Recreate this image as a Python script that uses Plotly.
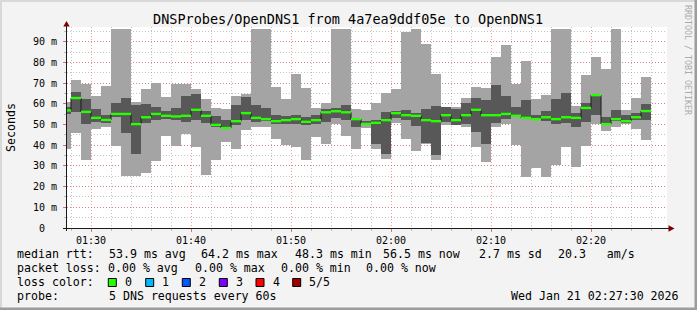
import datetime as dt
import plotly.graph_objects as go

# ---------------- data (one bar per minute, first bar starts 01:27) ----------------
minute_labels = ["01:27", "01:28", "01:29", "01:30", "01:31", "01:32", "01:33", "01:34", "01:35", "01:36",
                 "01:37", "01:38", "01:39", "01:40", "01:41", "01:42", "01:43", "01:44", "01:45", "01:46",
                 "01:47", "01:48", "01:49", "01:50", "01:51", "01:52", "01:53", "01:54", "01:55", "01:56",
                 "01:57", "01:58", "01:59", "02:00", "02:01", "02:02", "02:03", "02:04", "02:05", "02:06",
                 "02:07", "02:08", "02:09", "02:10", "02:11", "02:12", "02:13", "02:14", "02:15", "02:16",
                 "02:17", "02:18", "02:19", "02:20", "02:21", "02:22", "02:23", "02:24", "02:25"]

# ms; 96.2 = bar reaches the top of the graph (clipped)
max_ms = [61.0, 71.3, 69.4, 63.8, 68.5, 96.2, 96.2, 60.9, 67.0, 69.9, 63.2, 69.4, 69.4, 67.0, 62.2,
          57.9, 57.4, 63.8, 64.6, 96.2, 96.2, 68.0, 62.2, 74.2, 67.5, 57.9, 60.6, 96.2, 96.2, 57.4,
          56.9, 60.3, 65.1, 67.0, 94.9, 96.2, 88.7, 74.2, 58.3, 58.3, 62.7, 68.0, 67.5, 82.4, 88.2,
          69.4, 80.5, 62.2, 64.1, 96.2, 96.2, 58.8, 73.8, 82.4, 76.6, 96.2, 56.9, 62.7, 72.8]
ping4_ms = [58.5, 65.7, 62.2, 57.4, 54.5, 60.3, 62.7, 59.3, 59.8, 58.3, 56.4, 57.9, 63.6, 64.6, 56.4,
            54.1, 52.1, 59.3, 63.2, 59.3, 57.9, 54.5, 54.0, 54.5, 53.5, 54.5, 57.4, 57.9, 59.3, 52.9,
            51.6, 52.1, 55.9, 56.4, 56.9, 55.5, 57.4, 58.8, 58.3, 57.4, 60.3, 62.7, 61.7, 68.9, 63.6,
            58.3, 61.7, 54.5, 56.4, 62.2, 65.1, 55.5, 60.3, 64.4, 53.5, 56.9, 54.5, 55.5, 59.8]
median_ms = [56.8, 62.8, 56.1, 53.2, 52.2, 55.1, 55.1, 50.2, 53.5, 55.1, 54.2, 53.9, 54.2, 57.1, 54.2,
             49.8, 48.3, 51.6, 55.5, 53.2, 52.6, 51.6, 52.1, 52.6, 51.3, 52.1, 55.9, 56.4, 55.9, 52.6,
             50.3, 50.8, 52.1, 55.5, 54.5, 54.2, 52.1, 51.6, 54.5, 52.1, 54.5, 57.1, 54.5, 54.5, 55.1,
             54.2, 53.2, 52.6, 53.5, 52.6, 53.5, 53.2, 58.0, 64.2, 50.2, 52.6, 51.6, 53.5, 56.5]
ping2_ms = [55.0, 56.1, 50.3, 51.3, 50.6, 53.5, 46.0, 35.7, 50.8, 52.1, 52.6, 52.2, 51.3, 52.2, 50.6,
            48.8, 47.8, 49.7, 52.1, 51.3, 51.6, 50.3, 50.3, 50.3, 49.7, 50.2, 51.3, 53.2, 52.2, 48.9,
            49.7, 40.7, 35.7, 53.2, 52.1, 49.2, 41.1, 35.2, 51.3, 49.7, 50.2, 46.3, 40.7, 50.8, 52.6,
            53.7, 52.8, 52.1, 51.6, 50.2, 50.6, 48.7, 51.3, 54.5, 49.7, 51.6, 50.6, 52.1, 52.1]
min_ms = [38.2, 46.1, 33.0, 47.9, 48.9, 39.8, 24.9, 25.3, 26.7, 32.5, 44.5, 39.7, 45.5, 39.2, 25.6,
          33.0, 41.7, 38.3, 47.3, 48.9, 48.9, 43.1, 40.2, 39.2, 33.0, 44.1, 40.7, 50.2, 44.5, 38.3,
          48.4, 38.3, 33.5, 50.8, 43.1, 37.4, 40.5, 33.0, 49.7, 49.6, 48.9, 39.2, 32.0, 48.9, 50.2,
          40.2, 24.4, 29.2, 24.4, 30.2, 39.3, 29.7, 39.8, 50.2, 47.0, 48.9, 50.2, 47.9, 42.7]

y_tick_vals = [0, 10, 20, 30, 40, 50, 60, 70, 80, 90]
y_tick_text = ["0\u00a0\u00a0", "10 m", "20 m", "30 m", "40 m", "50 m", "60 m", "70 m", "80 m", "90 m"]

loss_labels = ["0", "1", "2", "3", "4", "5/5"]
loss_colors = ["#26ff00", "#00b8ff", "#0059ff", "#7e00ff", "#ff0000", "#a00000"]

title_text = "DNSProbes/OpenDNS1 from 4a7ea9ddf05e to OpenDNS1"

# ---------------- geometry ----------------
W, H = 697, 310
L, R, T, B = 67, 30, 27, 82
PW, PH = W - L - R, H - T - B
Y_TOP = 97.1
day = dt.date(2026, 1, 21)


def px(x):
    return (x - L) / PW


def py(y):
    return (H - B - y) / PH


def ts(label):
    h, m = map(int, label.split(":"))
    return dt.datetime(day.year, day.month, day.day, h, m)


starts = [ts(lbl) for lbl in minute_labels]
ends = [s + dt.timedelta(minutes=1) for s in starts]
centers = [s + dt.timedelta(seconds=30) for s in starts]
step_x = starts + [ends[-1]]
step_y = median_ms + [median_ms[-1]]
BW = 60000

# green horizontal median segments
seg_x, seg_y = [], []
for s, e, m in zip(starts, ends, median_ms):
    seg_x += [s, e, None]
    seg_y += [m, m, None]

fig = go.Figure()
fig.add_trace(go.Bar(x=centers, y=[a - b for a, b in zip(max_ms, min_ms)], base=min_ms, width=BW,
                     marker=dict(color="#a4a4a4", line=dict(width=0)), hoverinfo="skip"))
fig.add_trace(go.Bar(x=centers, y=[a - b for a, b in zip(ping4_ms, ping2_ms)], base=ping2_ms, width=BW,
                     marker=dict(color="#585858", line=dict(width=0)), hoverinfo="skip"))
fig.add_trace(go.Scatter(x=step_x, y=step_y, mode="lines", line=dict(color="#1a1a1a", width=1, shape="hv"),
                         hoverinfo="skip"))
fig.add_trace(go.Scatter(x=seg_x, y=seg_y, mode="lines", line=dict(color=loss_colors[0], width=2.4),
                         connectgaps=False, hoverinfo="skip"))

MONO = "DejaVu Sans Mono"
grid_minor = "rgba(143,143,143,0.55)"
grid_major = "rgba(222,80,80,0.55)"
dash = "1px,2px"

fig.update_layout(
    width=W, height=H,
    margin=dict(l=L, r=R, t=T, b=B, pad=0),
    paper_bgcolor="#f3f3f3", plot_bgcolor="#ffffff",
    barmode="overlay", bargap=0, showlegend=False,
    font=dict(family=MONO, color="#000000"),
)
fig.update_xaxes(
    type="date",
    range=[dt.datetime(2026, 1, 21, 1, 27, 36), dt.datetime(2026, 1, 21, 2, 27, 36)],
    tickformat="%H:%M", tick0="2026-01-21 01:30:00", dtick=600000,
    showgrid=True, gridcolor=grid_major, griddash=dash, gridwidth=1,
    ticks="outside", ticklen=3, tickcolor="rgba(222,80,80,0.8)", tickwidth=1,
    tickfont=dict(family=MONO, size=10, color="#000000"),
    minor=dict(tick0="2026-01-21 01:30:00", dtick=120000, showgrid=True, gridcolor=grid_minor,
               griddash=dash, ticks="outside", ticklen=2, tickcolor=grid_minor),
    showline=False, zeroline=False, fixedrange=True,
)
fig.update_yaxes(
    range=[0, Y_TOP], tickmode="array", tickvals=y_tick_vals, ticktext=y_tick_text,
    showgrid=True, gridcolor=grid_major, griddash=dash, gridwidth=1,
    ticks="outside", ticklen=3, tickcolor="rgba(222,80,80,0.8)",
    tickfont=dict(family=MONO, size=10, color="#000000"),
    ticklabelstandoff=4,
    minor=dict(tickmode="linear", tick0=0, dtick=5, showgrid=True, gridcolor=grid_minor,
               griddash=dash, ticks="outside", ticklen=2, tickcolor=grid_minor),
    showline=False, zeroline=False, fixedrange=True,
)

shapes = []
# frame
shapes.append(dict(type="rect", xref="paper", yref="paper", x0=px(0), x1=px(W), y0=py(0), y1=py(2),
                   fillcolor="#d8d8d8", line=dict(width=0), layer="below"))
shapes.append(dict(type="rect", xref="paper", yref="paper", x0=px(0), x1=px(2), y0=py(0), y1=py(H),
                   fillcolor="#d8d8d8", line=dict(width=0), layer="below"))
shapes.append(dict(type="rect", xref="paper", yref="paper", x0=px(W - 2.5), x1=px(W), y0=py(0), y1=py(H),
                   fillcolor="#9c9c9c", line=dict(width=0)))
shapes.append(dict(type="rect", xref="paper", yref="paper", x0=px(0), x1=px(W), y0=py(H - 2.5), y1=py(H),
                   fillcolor="#9c9c9c", line=dict(width=0)))
# axes
shapes.append(dict(type="line", xref="paper", yref="paper", x0=px(66.5), x1=px(66.5), y0=py(231), y1=py(24),
                   line=dict(color="#1a1a1a", width=1)))
shapes.append(dict(type="line", xref="paper", yref="paper", x0=px(63), x1=px(670), y0=py(228.5), y1=py(228.5),
                   line=dict(color="#1a1a1a", width=1)))


def tri(points):
    return "M " + " L ".join(f"{px(a):.5f},{py(b):.5f}" for a, b in points) + " Z"


shapes.append(dict(type="path", xref="paper", yref="paper", path=tri([(66.5, 21), (63.3, 26.5), (69.7, 26.5)]),
                   fillcolor="#7f0000", line=dict(width=0)))
shapes.append(dict(type="path", xref="paper", yref="paper", path=tri([(674.5, 228.5), (668.5, 225.3), (668.5, 231.7)]),
                   fillcolor="#7f0000", line=dict(width=0)))

# loss colour boxes
box_x = [108.3, 145.7, 182.3, 219.3, 256.0, 292.7]
label_x = [123.3, 160.7, 197.3, 235.0, 271.7, 307.7]
for bx, col in zip(box_x, loss_colors):
    shapes.append(dict(type="rect", xref="paper", yref="paper", x0=px(bx), x1=px(bx + 8), y0=py(286.5), y1=py(278.5),
                       fillcolor=col, line=dict(color="#000000", width=1)))
fig.update_layout(shapes=shapes)

ann = []
LEG = 11.6


def text(x, y, s, size=LEG, anchor="left", angle=0, color="#000000"):
    ann.append(dict(x=px(x), y=py(y), xref="paper", yref="paper", text=s.replace(" ", "\u00a0"),
                    showarrow=False, xanchor=anchor, yanchor="middle", textangle=angle,
                    font=dict(family=MONO, size=size, color=color)))


text(348, 19, title_text, size=13.5, anchor="center")
text(11, 128, "Seconds", anchor="center", angle=-90)
text(688, 60, "RRDTOOL / TOBI OETIKER", size=8.3, anchor="center", angle=90, color="#ababab")

row1 = [(16, "median rtt:"), (107.3, "53.9 ms avg"), (200, "64.2 ms max"), (293.3, "48.3 ms min"),
        (382, "56.5 ms now"), (478, "2.7 ms sd"), (557, "20.3   am/s")]
row2 = [(16, "packet loss:"), (106.7, "0.00 % avg"), (193.3, "0.00 % max"), (279.3, "0.00 % min"),
        (365, "0.00 % now")]
row3 = [(16, "loss color:")] + list(zip(label_x, loss_labels))
row4 = [(16, "probe:"), (107.3, "5 DNS requests every 60s")]
for yy, row in [(254.3, row1), (268.3, row2), (282.3, row3), (296, row4)]:
    for xx, s in row:
        text(xx - 0.8, yy, s)
text(680.5, 296, "Wed Jan 21 02:27:30 2026", anchor="right")

fig.update_layout(annotations=ann)
fig.write_html("out.html")
